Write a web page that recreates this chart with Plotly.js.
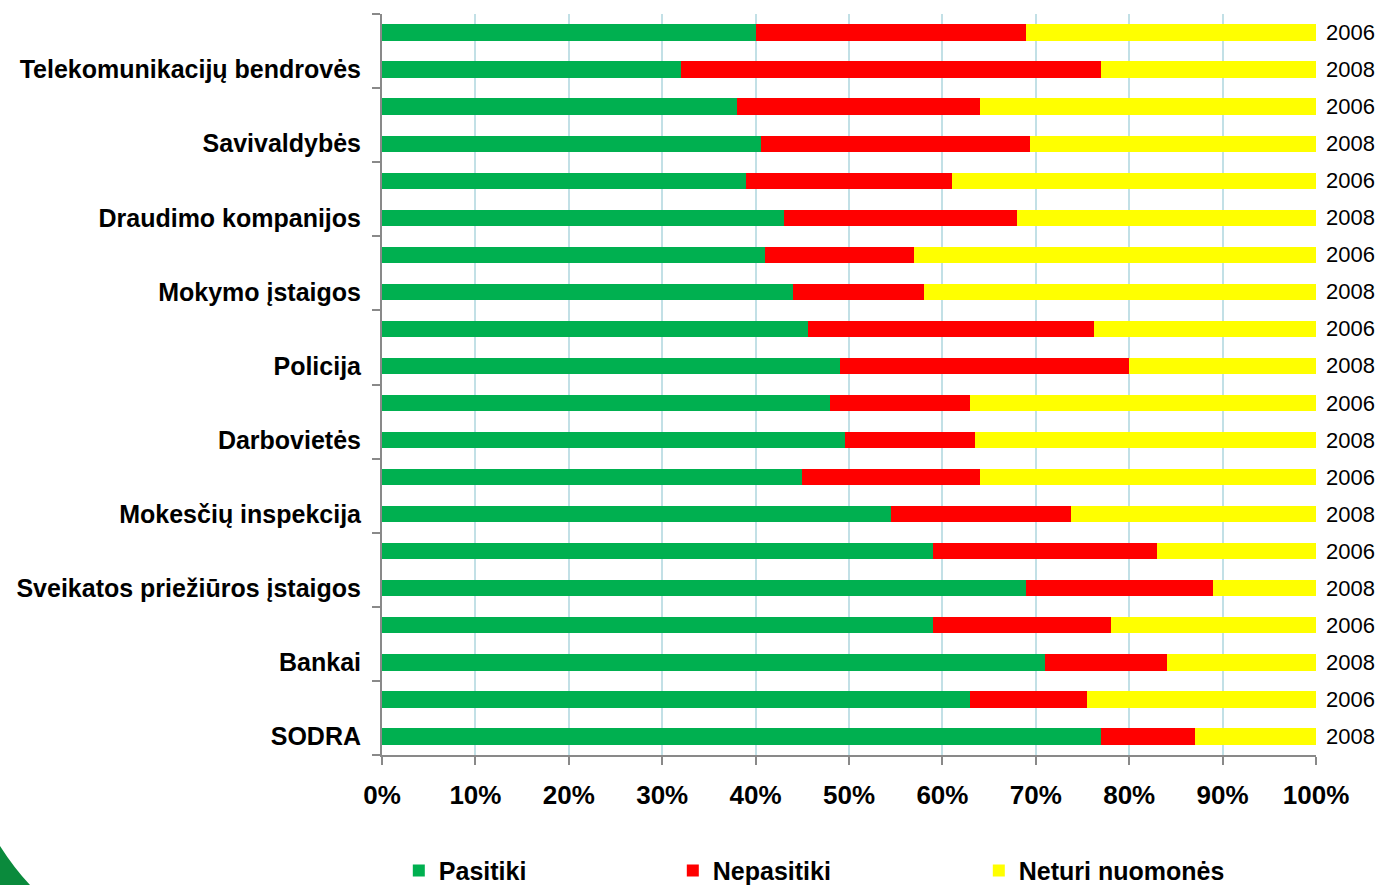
<!DOCTYPE html>
<html>
<head>
<meta charset="utf-8">
<script src="https://cdn.plot.ly/plotly-3.0.1.min.js"></script>
<style>html,body{margin:0;padding:0;background:#fff;}#chart{width:1378px;height:885px;}</style>
</head>
<body>
<div id="chart"></div>
<script>
// Institutions, top to bottom; each has a 2006 bar and a 2008 bar
const institutions = ['Telekomunikacijų bendrovės', 'Savivaldybės', 'Draudimo kompanijos', 'Mokymo įstaigos', 'Policija', 'Darbovietės', 'Mokesčių inspekcija', 'Sveikatos priežiūros įstaigos', 'Bankai', 'SODRA'];
const years = ['2006', '2008'];
const seriesNames = ['Pasitiki', 'Nepasitiki', 'Neturi nuomonės'];
// Values (%) per bar, top to bottom: inst1-2006, inst1-2008, inst2-2006, ...
const pasitiki   = [40, 32, 38, 40.6, 39, 43, 41, 44, 45.6, 49, 48, 49.6, 45, 54.5, 59, 69, 59, 71, 63, 77];
const nepasitiki = [29, 45, 26, 28.8, 22, 25, 16, 14, 30.6, 31, 15, 13.9, 19, 19.3, 24, 20, 19, 13, 12.5, 10];
const neturi     = [31, 23, 36, 30.6, 39, 32, 43, 42, 23.8, 20, 37, 36.5, 36, 26.2, 17, 11, 22, 16, 24.5, 13];
const xTicks = [0, 10, 20, 30, 40, 50, 60, 70, 80, 90, 100];

const colors = ['#00b050', '#ff0000', '#ffff00'];
const nBars = institutions.length * years.length;
const rows = Array.from({length: nBars}, (_, k) => k);
const rowYear = rows.map(k => years[k % 2]);

const FONT = 'Liberation Sans, Arial, sans-serif';
const legendWidths = [229, 261, 200];

const traces = [pasitiki, nepasitiki, neturi].map((vals, i) => ({
  type: 'bar',
  orientation: 'h',
  name: seriesNames[i],
  x: vals,
  y: rows,
  width: 0.44,
  marker: {color: colors[i], line: {width: 0}},
  legendwidth: legendWidths[i],
  hoverinfo: 'x+name'
}));

const M = {l: 382, r: 62, t: 14, b: 130, autoexpand: false};
const W = 1378, H = 885;
const pw = W - M.l - M.r, ph = H - M.t - M.b;
const px = x => (x - M.l) / pw;
const py = y => (H - M.b - y) / ph;

const annotations = rows.map(k => ({
  x: 1, xref: 'paper', xanchor: 'left', xshift: 8,
  y: k, yref: 'y', yanchor: 'middle',
  text: rowYear[k], showarrow: false,
  font: {family: FONT, size: 22, color: '#000'}
}));

const layout = {
  width: W, height: H,
  margin: M,
  paper_bgcolor: '#fff', plot_bgcolor: '#fff',
  barmode: 'stack',
  bargap: 0.5,
  showlegend: true,
  legend: {
    orientation: 'h', x: 0.018, xanchor: 'left', y: -0.125, yanchor: 'top',
    font: {family: FONT, size: 25, color: '#000', weight: 'bold'},
    traceorder: 'normal', itemwidth: 30
  },
  xaxis: {
    range: [0, 100], tickmode: 'array', tickvals: xTicks, ticktext: xTicks.map(v => v + '%'),
    showgrid: true, gridcolor: '#c2e0e6', gridwidth: 2,
    zeroline: false, showline: true, linecolor: '#898989', linewidth: 2,
    ticks: 'outside', ticklen: 8, tickwidth: 2, tickcolor: '#898989',
    ticklabelstandoff: 8,
    tickfont: {family: FONT, size: 26, color: '#000', weight: 'bold'},
    fixedrange: true
  },
  yaxis: {
    range: [nBars - 0.5, -0.5],
    tickmode: 'array',
    tickvals: institutions.map((_, i) => 2 * i + 1),
    ticktext: institutions,
    ticks: '', showgrid: false, zeroline: false,
    showline: true, linecolor: '#898989', linewidth: 2,
    ticklabelstandoff: 14,
    minor: {
      tickmode: 'array',
      tickvals: Array.from({length: institutions.length + 1}, (_, i) => 2 * i - 0.5),
      ticks: 'outside', ticklen: 8, tickwidth: 2, tickcolor: '#898989', showgrid: false
    },
    tickfont: {family: FONT, size: 25, color: '#000', weight: 'bold'},
    fixedrange: true
  },
  annotations: annotations,
  shapes: [{
    type: 'path', xref: 'paper', yref: 'paper', layer: 'above',
    path: 'M' + px(0) + ',' + py(846) + ' Q' + px(14) + ',' + py(868) + ' ' + px(30) + ',' + py(885) + ' L' + px(0) + ',' + py(885) + ' Z',
    fillcolor: '#0a8a3c', line: {width: 0}
  }]
};

Plotly.newPlot('chart', traces, layout, {displayModeBar: false, staticPlot: true});
</script>
</body>
</html>
